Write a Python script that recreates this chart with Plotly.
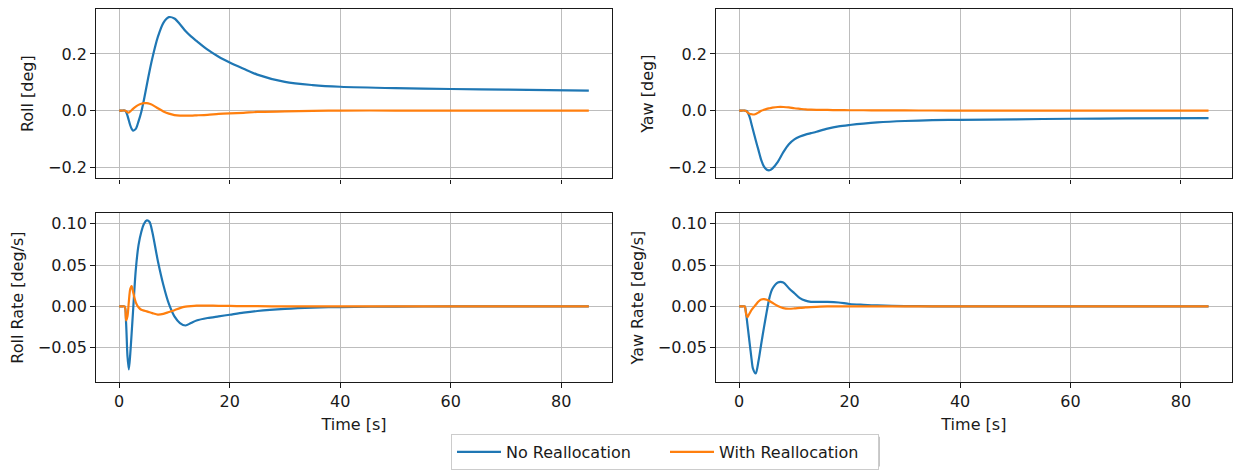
import plotly.graph_objects as go

# Simulation time samples [s]
time_s = [0, 0.5, 1.0, 1.25, 1.5, 1.75, 2.0, 2.25, 2.5, 3.0, 3.5, 4.0, 4.5, 5.0, 5.5,
          6.0, 7.0, 8.0, 9.0, 10.0, 11.0, 12.0, 13.0, 14.0, 16.0, 18.0, 20.0, 22.5,
          25.0, 30.0, 35.0, 40.0, 50.0, 60.0, 70.0, 85.0]

# Roll angle [deg]
roll_no = [0, 0, 0, -0.005, -0.018, -0.035, -0.052, -0.064, -0.071, -0.065, -0.038,
           -0.005, 0.04, 0.09, 0.14, 0.185, 0.26, 0.31, 0.33, 0.325, 0.305, 0.281,
           0.262, 0.246, 0.215, 0.19, 0.17, 0.148, 0.127, 0.101, 0.09, 0.084, 0.079,
           0.076, 0.074, 0.070]
roll_with = [0, 0, 0, -0.002, -0.006, -0.007, -0.003, 0.001, 0.006, 0.014, 0.020,
             0.024, 0.026, 0.026, 0.024, 0.020, 0.008, -0.003, -0.011, -0.016, -0.018,
             -0.018, -0.018, -0.017, -0.015, -0.012, -0.010, -0.008, -0.005, -0.003,
             -0.001, 0, 0, 0, 0, 0]

# Yaw angle [deg]
yaw_no = [0, 0, 0, -0.001, -0.005, -0.015, -0.03, -0.049, -0.068, -0.105, -0.14,
          -0.175, -0.198, -0.209, -0.211, -0.205, -0.181, -0.147, -0.119, -0.102,
          -0.092, -0.085, -0.080, -0.075, -0.064, -0.056, -0.051, -0.046, -0.042,
          -0.037, -0.034, -0.033, -0.031, -0.029, -0.028, -0.027]
yaw_with = [0, 0, 0, -0.002, -0.006, -0.010, -0.012, -0.013, -0.014, -0.012, -0.007,
            -0.001, 0.003, 0.006, 0.008, 0.010, 0.0125, 0.0125, 0.011, 0.008, 0.006,
            0.004, 0.003, 0.0025, 0.002, 0.0015, 0.001, 0.001, 0.0005, 0.0003, 0.0001,
            0, 0, 0, 0, 0]

# Roll rate [deg/s]
roll_rate_no = [0, 0, 0, -0.02, -0.06, -0.076, -0.058, -0.033, -0.007, 0.044, 0.074,
                0.09, 0.1, 0.104, 0.102, 0.09, 0.055, 0.026, 0.003, -0.012, -0.020,
                -0.023, -0.020, -0.017, -0.014, -0.012, -0.010, -0.0075, -0.0055,
                -0.003, -0.0015, -0.0007, -0.0002, 0, 0, 0]
roll_rate_with = [0, 0, 0, -0.017, -0.012, 0.006, 0.021, 0.0246, 0.018, 0.005, -0.001,
                  -0.004, -0.005, -0.006, -0.007, -0.008, -0.0099, -0.009, -0.0067,
                  -0.0045, -0.002, -0.0003, 0.0005, 0.001, 0.001, 0.0008, 0.0006,
                  0.0004, 0.0003, 0.0001, 0, 0, 0, 0, 0, 0]

# Yaw rate [deg/s]
yaw_rate_no = [0, 0, 0, -0.008, -0.022, -0.036, -0.05, -0.064, -0.075, -0.081, -0.066,
               -0.045, -0.025, -0.006, 0.011, 0.021, 0.029, 0.029, 0.022, 0.016, 0.010,
               0.007, 0.0056, 0.0055, 0.0055, 0.0048, 0.003, 0.002, 0.0012, 0.0005,
               0.0002, 0, 0, 0, 0, 0]
yaw_rate_with = [0, 0, 0, -0.009, -0.013, -0.010, -0.007, -0.004, -0.002, 0.002, 0.006,
                 0.0085, 0.0088, 0.008, 0.0065, 0.0045, 0.0005, -0.002, -0.0028, -0.0024,
                 -0.0017, -0.0012, -0.0007, -0.0004, 0, 0, 0, 0, 0, 0, 0, 0, 0, 0, 0, 0]

series_names = ["No Reallocation", "With Reallocation"]
series_colors = ["#1f77b4", "#ff7f0e"]

y_titles = ["Roll [deg]", "Yaw [deg]", "Roll Rate [deg/s]", "Yaw Rate [deg/s]"]
x_title = "Time [s]"
x_ticks = [0, 20, 40, 60, 80]
angle_ticks = [-0.2, 0.0, 0.2]
rate_ticks = [-0.05, 0.00, 0.05, 0.10]

W, H = 1233, 470
FONT = "DejaVu Sans"
INK = "#1a1a1a"

panels = [
    (1, roll_no, roll_with),
    (2, yaw_no, yaw_with),
    (3, roll_rate_no, roll_rate_with),
    (4, yaw_rate_no, yaw_rate_with),
]

fig = go.Figure()
for idx, no_vals, with_vals in panels:
    suffix = "" if idx == 1 else str(idx)
    for name, color, vals in zip(series_names, series_colors, [no_vals, with_vals]):
        fig.add_trace(go.Scatter(
            x=time_s, y=vals, name=name, mode="lines",
            line=dict(color=color, width=2.2, shape="spline", smoothing=0.8),
            xaxis="x" + suffix, yaxis="y" + suffix,
            showlegend=(idx == 1),
        ))

# Panel frames in pixels: left/right columns, top/bottom rows
col_px = [(95.7, 612.3), (715.7, 1232.0)]
row_px = [(9.0, 180.0), (215.0, 385.3)]


def x_dom(c):
    return [col_px[c][0] / W, col_px[c][1] / W]


def y_dom(r):
    return [1 - row_px[r][1] / H, 1 - row_px[r][0] / H]


axis_common = dict(
    showline=True, mirror=True, linecolor=INK, linewidth=1.2,
    ticks="outside", ticklen=4.5, tickwidth=1.2, tickcolor=INK,
    showgrid=True, gridcolor="#bdbdbd", gridwidth=1.2,
    zeroline=False, tickfont=dict(family=FONT, size=16, color=INK),
)

layout_axes = {}
for idx in range(1, 5):
    r = (idx - 1) // 2
    c = (idx - 1) % 2
    suffix = "" if idx == 1 else str(idx)
    xa = dict(axis_common, domain=x_dom(c), anchor="y" + suffix,
              range=[-4.25, 89.25], tickvals=x_ticks, showticklabels=(r == 1))
    if r == 1:
        xa["title"] = dict(text=x_title, font=dict(family=FONT, size=16, color=INK),
                           standoff=8)
    if r == 0:
        ya = dict(axis_common, domain=y_dom(r), anchor="x" + suffix,
                  range=[-0.240, 0.359], tickvals=angle_ticks, tickformat=".1f")
    else:
        ya = dict(axis_common, domain=y_dom(r), anchor="x" + suffix,
                  range=[-0.0913, 0.1127], tickvals=rate_ticks, tickformat=".2f")
    ya["title"] = dict(text=y_titles[idx - 1], font=dict(family=FONT, size=16, color=INK),
                       standoff=10)
    layout_axes["xaxis" + suffix] = xa
    layout_axes["yaxis" + suffix] = ya

# Legend box position in pixels
leg_left, leg_top, leg_right, leg_bottom = 452.7, 438.0, 877.3, 468.0

fig.update_layout(
    width=W, height=H, autosize=False,
    margin=dict(l=0, r=0, t=0, b=0),
    paper_bgcolor="white", plot_bgcolor="white",
    font=dict(family=FONT, size=16, color=INK),
    legend=dict(
        orientation="h",
        x=(leg_left + leg_right) / 2 / W, xanchor="center",
        y=1 - leg_top / H, yanchor="top",
        bgcolor="white", bordercolor="#cccccc", borderwidth=1,
        font=dict(family=FONT, size=16, color=INK),
        itemwidth=44, entrywidth=154,
    ),
    shapes=[dict(
        type="rect", xref="paper", yref="paper",
        x0=(leg_left + 2.5) / W, x1=(leg_right + 2.5) / W,
        y0=1 - (leg_bottom + 2.5) / H, y1=1 - (leg_top + 2.5) / H,
        fillcolor="#b8b8b8", line=dict(width=0), layer="above",
    )],
    **layout_axes,
)

fig.write_html("out.html")
